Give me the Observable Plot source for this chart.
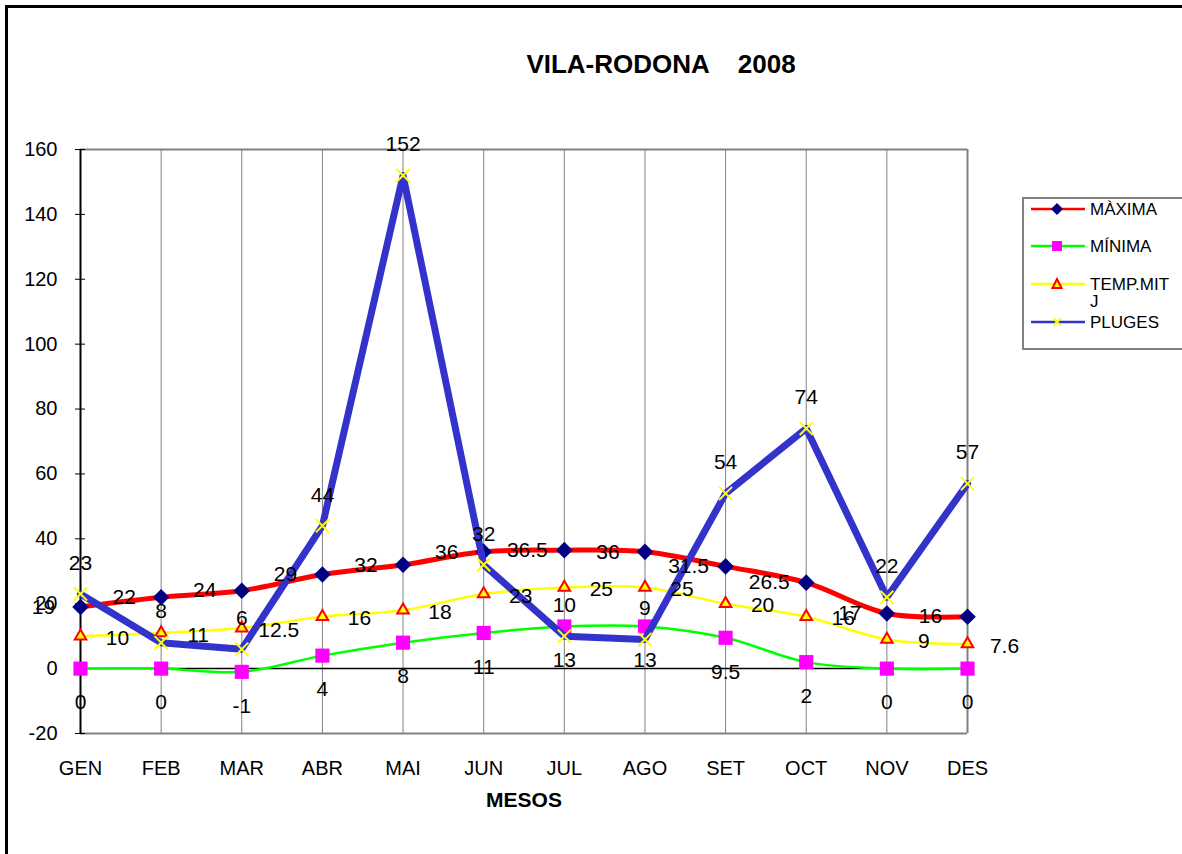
<!DOCTYPE html>
<html><head><meta charset="utf-8">
<script src="https://cdn.jsdelivr.net/npm/d3@7"></script>
<script src="https://cdn.jsdelivr.net/npm/@observablehq/plot@0.6"></script>
<style>
body{margin:0;background:#fff;font-family:"Liberation Sans",Arial,sans-serif;}
#wrap{position:relative;width:1182px;height:854px;overflow:hidden;background:#fff;}
#frame{position:absolute;left:5px;top:5px;width:1300px;height:1000px;border:3px solid #000;box-sizing:border-box;}
#chart{position:absolute;left:0;top:0;}
#title{position:absolute;left:0;top:49px;width:1322px;text-align:center;font-weight:bold;font-size:26px;white-space:pre;color:#000;}
#legend{position:absolute;left:1022px;top:197px;width:200px;height:153px;border:2px solid #808080;box-sizing:border-box;background:#fff;}
.row{position:absolute;left:6px;font-size:17px;color:#000;line-height:17px;}
.row svg{position:absolute;left:0;top:0;}
.row span{position:absolute;left:60px;top:0;white-space:pre;}
</style></head><body>
<div id="wrap">
  <div id="frame"></div>
  <div id="chart"></div>
  <div id="title">VILA-RODONA    2008</div>
  <div id="legend"></div>
</div>
<script>
const months = ["GEN","FEB","MAR","ABR","MAI","JUN","JUL","AGO","SET","OCT","NOV","DES"];
const maxima = [19,22,24,29,32,36,36.5,36,31.5,26.5,17,16];
const minima = [0,0,-1,4,8,11,13,13,9.5,2,0,0];
const tempMitj = [10,11,12.5,16,18,23,25,25,20,16,9,7.6];
const pluges = [23,8,6,44,152,32,10,9,54,74,22,57];
const yTicks = [-20,0,20,40,60,80,100,120,140,160];
const seriesNames = ["MÀXIMA","MÍNIMA","TEMP.MITJ","PLUGES"];

const data = months.map((m,i)=>({m, maxima:maxima[i], minima:minima[i], temp:tempMitj[i], pluges:pluges[i]}));
const curve = "catmull-rom";
const fs = 21;

const chart = Plot.plot({
  width:1182, height:854,
  marginLeft:80, marginRight:215, marginTop:149, marginBottom:121,
  style:{fontFamily:"'Liberation Sans', Arial, sans-serif", fontSize:"20px", color:"#000", background:"transparent"},
  x:{type:"point", domain:months, padding:0, inset:0, round:false, label:null},
  y:{domain:[-20,160], inset:0, label:null},
  marks:[
    Plot.ruleX(months, {x:d=>d, y1:-20, y2:160, stroke:"#808080", strokeWidth:1, strokeOpacity:1}),
    Plot.ruleY([160,-20], {stroke:"#808080", strokeWidth:2, strokeOpacity:1}),
    Plot.ruleX([months[months.length-1]], {y1:-20, y2:160, stroke:"#808080", strokeWidth:2, strokeOpacity:1}),
    Plot.ruleY([0], {stroke:"#000", strokeWidth:1.5}),
    Plot.ruleX([months[0]], {y1:-20, y2:160, stroke:"#000", strokeWidth:2}),
    Plot.axisY({ticks:yTicks, tickSize:5, tickPadding:18, tickFormat:d=>String(d), fontSize:20, label:null}),
    Plot.axisY({ticks:yTicks, tickSize:-5, tickFormat:()=>"", label:null}),
    Plot.axisX({tickSize:0, tickPadding:27, fontSize:20, label:null}),
    Plot.text(["MESOS"], {frameAnchor:"bottom", dy:73, fontWeight:"bold", fontSize:21}),
    // MAXIMA
    Plot.line(data, {x:"m", y:"maxima", stroke:"#FF0000", strokeWidth:5, curve}),
    Plot.dot(data, {x:"m", y:"maxima", symbol:"diamond2", r:7.5, fill:"#000080", stroke:"none"}),
    // MINIMA
    Plot.line(data, {x:"m", y:"minima", stroke:"#00FF00", strokeWidth:2.5, curve}),
    Plot.dot(data, {x:"m", y:"minima", symbol:"square2", r:9, fill:"#FF00FF", stroke:"none"}),
    // TEMP
    Plot.line(data, {x:"m", y:"temp", stroke:"#FFFF00", strokeWidth:2.5, curve}),
    Plot.dot(data, {x:"m", y:"temp", symbol:"triangle2", r:5.5, fill:"#FFFF00", stroke:"#FF0000", strokeWidth:2}),
    // PLUGES
    Plot.line(data, {x:"m", y:"pluges", stroke:"#3333CC", strokeWidth:7, curve:"linear", strokeLinejoin:"round"}),
    Plot.dot(data, {x:"m", y:"pluges", symbol:"times", r:6, stroke:"#FFFF00", strokeWidth:2}),
    // labels
    Plot.text(data, {x:"m", y:"maxima", text:d=>String(d.maxima), dx:-37, fontSize:fs}),
    Plot.text(data, {x:"m", y:"minima", text:d=>String(d.minima), dy:34, fontSize:fs}),
    Plot.text(data, {x:"m", y:"temp", text:d=>String(d.temp), dx:37, dy:2, fontSize:fs}),
    Plot.text(data, {x:"m", y:"pluges", text:d=>String(d.pluges), dy:-31, fontSize:fs})
  ]
});
document.getElementById("chart").appendChild(chart);

// legend
const legendSpecs = [
  {name:seriesNames[0], line:"#FF0000", sym:'<path d="M27,2 L33,8 L27,14 L21,8 Z" fill="#000080"/>'},
  {name:seriesNames[1], line:"#00FF00", sym:'<rect x="22" y="3" width="10" height="10" fill="#FF00FF"/>'},
  {name:"TEMP.MIT\nJ", line:"#FFFF00", sym:'<path d="M27,3 L31.5,12 L22.5,12 Z" fill="#FFFF00" stroke="#FF0000" stroke-width="2"/>'},
  {name:seriesNames[3], line:"#3333CC", sym:'<path d="M23.5,4.5 L30.5,11.5 M30.5,4.5 L23.5,11.5" stroke="#FFFF00" stroke-width="2"/>'}
];
const tops = [2, 39, 77, 115];
const leg = document.getElementById("legend");
legendSpecs.forEach((s,i)=>{
  const row = document.createElement("div");
  row.className = "row";
  row.style.top = tops[i] + "px";
  row.innerHTML = `<svg width="56" height="16"><line x1="1" x2="55" y1="8" y2="8" stroke="${s.line}" stroke-width="2.5"/>${s.sym}</svg><span>${s.name}</span>`;
  leg.appendChild(row);
});
</script>
</body></html>
